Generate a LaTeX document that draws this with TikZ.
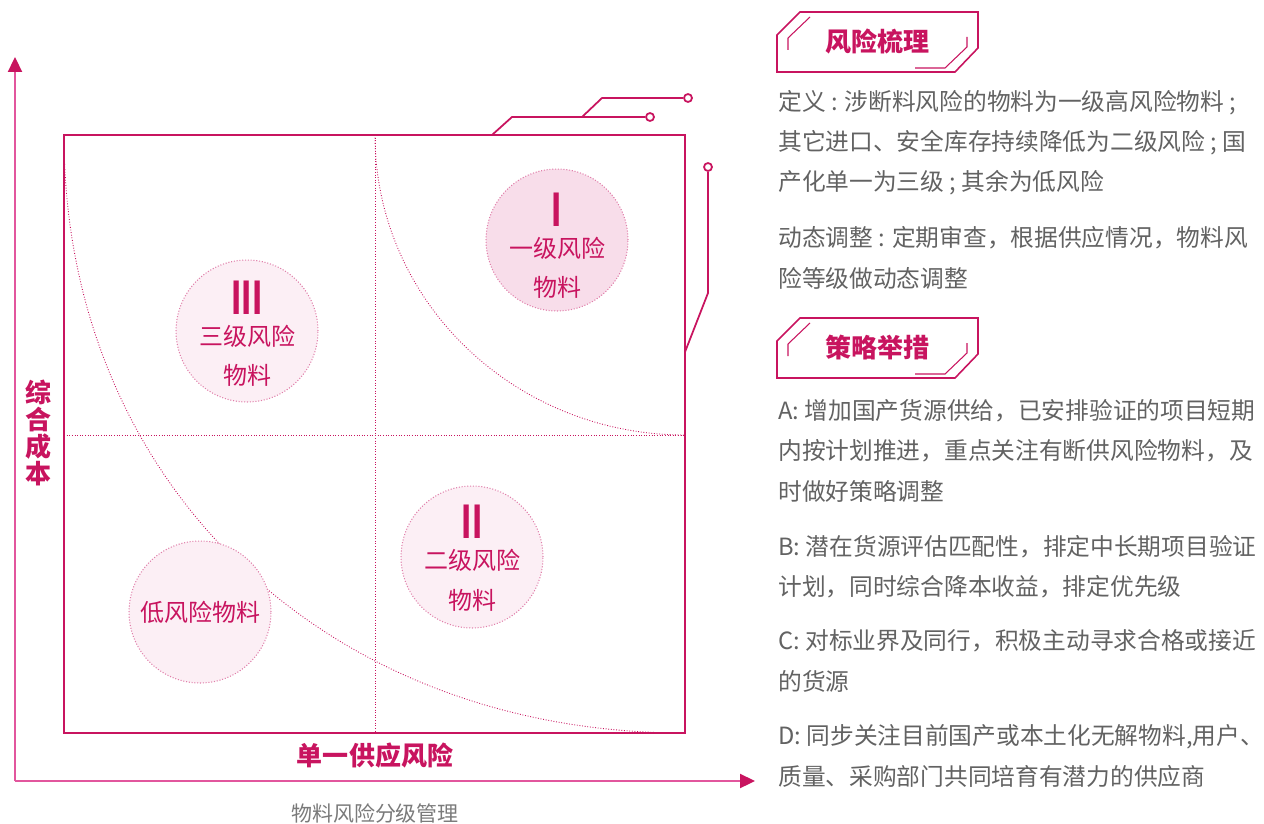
\documentclass[tikz,border=0pt]{standalone}
\usepackage{fontspec}
\setmainfont{Noto Sans CJK SC}
\usetikzlibrary{positioning, arrows.meta, calc}
\definecolor{rkpink}{HTML}{C8145F}
\definecolor{rkaxis}{HTML}{E2569D}
\definecolor{rkring}{HTML}{E07FAA}
\definecolor{rkhigh}{HTML}{F8DDEA}
\definecolor{rklow}{HTML}{FCEFF5}
\definecolor{rkgray}{HTML}{626262}
\definecolor{rkcap}{HTML}{7A7A7A}
\newcommand{\bodysize}{\fontsize{13.5pt}{22.76pt}\selectfont}
\newcommand{\labelsize}{\fontsize{14.8pt}{15.4pt}\selectfont}
\tikzset{
  frame/.style={draw=rkpink, line width=1.1pt},
  axisline/.style={draw=rkaxis, line width=1.3pt,
    -{Triangle[length=0.3cm, width=0.28cm, color=rkpink]}},
  midline/.style={draw=rkpink, densely dotted, line width=0.5pt},
  riskcircle/.style={circle, draw=rkring, densely dotted, line width=0.6pt,
    minimum size=2.84cm, inner sep=0pt},
  numeral/.style={text=rkpink, inner sep=0pt,
    font=\fontsize{25.6pt}{25.6pt}\selectfont\bfseries},
  circlabel/.style={text=rkpink, inner sep=0pt,
    font=\fontsize{13.66pt}{13.66pt}\selectfont},
  link/.style={draw=rkpink, line width=1pt},
  dot/.style={circle, draw=rkpink, fill=white, line width=1pt,
    minimum size=0.16cm, inner sep=0pt},
  tabedge/.style={draw=rkpink, line width=0.9pt},
  tabinner/.style={draw=rkpink, line width=0.6pt},
  tabtitle/.style={text=rkpink, inner sep=0pt, font=\labelsize\bfseries},
  axislabel/.style={text=rkpink, inner sep=0pt, font=\labelsize\bfseries},
  bodyline/.style={anchor=west, inner sep=0pt, text=rkgray, font=\bodysize},
  caption/.style={text=rkcap, inner sep=0pt,
    font=\fontsize{11.95pt}{11.95pt}\selectfont}
}
\begin{document}
\begin{tikzpicture}[x=0.02cm, y=-0.02cm]
  \useasboundingbox (0,0) rectangle (1264,824);

  % axes
  \coordinate (origin) at (15,781);
  \coordinate (ytip) at (15,57);
  \coordinate (xtip) at (755,781);
  \draw[axisline] (origin) -- (ytip);
  \draw[axisline] (origin) -- (xtip);

  % matrix
  \coordinate (sq-nw) at (64,135);
  \coordinate (sq-se) at (685,733);
  \coordinate (sq-ne) at (685,135);
  \coordinate (sq-n) at (375,135);
  \coordinate (sq-s) at (375,733);
  \coordinate (sq-w) at (64,435);
  \coordinate (sq-e) at (685,435);
  \draw[midline] (sq-n) -- (sq-s);
  \draw[midline] (sq-w) -- (sq-e);
  \draw[midline] (sq-n) .. controls (375,300.7) and (513.8,435) .. (sq-e);
  \draw[midline] (sq-nw) .. controls (64,482) and (325,733) .. (sq-se);
  \draw[frame] (sq-nw) rectangle (sq-se);

  % risk levels
  \node[riskcircle, fill=rkhigh] (lvl1) at (557,240) {};
  \node[numeral] (lvl1-num) at (557,210) {\scalebox{0.65}[1]{I}};
  \node[circlabel] (lvl1-txt) at (557,248) {一级风险};
  \node[circlabel] (lvl1-mat) at (557,287) {物料};

  \node[riskcircle, fill=rklow] (lvl3) at (247,331) {};
  \node[numeral] (lvl3-num) at (247,298) {\scalebox{0.65}[1]{III}};
  \node[circlabel] (lvl3-txt) at (247,336) {三级风险};
  \node[circlabel] (lvl3-mat) at (247,375) {物料};

  \node[riskcircle, fill=rklow] (lvl2) at (472,557) {};
  \node[numeral] (lvl2-num) at (472,522) {\scalebox{0.65}[1]{II}};
  \node[circlabel] (lvl2-txt) at (472,560) {二级风险};
  \node[circlabel] (lvl2-mat) at (472,600) {物料};

  \node[riskcircle, fill=rklow] (lvl0) at (200,612) {};
  \node[circlabel] (lvl0-txt) at (200,612) {低风险物料};

  % leads to the right panel
  \coordinate (c1a) at (492,135);
  \coordinate (c1b) at (512,117);
  \node[dot] (d1) at (650,117) {};
  \draw[link] (c1a) -- (c1b) -- (d1);
  \coordinate (c2a) at (582,117);
  \coordinate (c2b) at (602,98);
  \node[dot] (d2) at (688,98) {};
  \draw[link] (c2a) -- (c2b) -- (d2);
  \coordinate (c3a) at (685,352);
  \coordinate (c3b) at (708,293);
  \node[dot] (d3) at (708,167) {};
  \draw[link] (c3a) -- (c3b) -- (d3);

  % axis labels
  \node[axislabel] (xlabel) at (375,756) {单一供应风险};
  \node[axislabel, align=center] (ylabel) at (39,433) {综\\合\\成\\本};
  \node[caption] (cap) at (375,813) {物料风险分级管理};

  % panel headings
  \foreach \ty/\ttl in {0/风险梳理, 306/策略举措} {
    \begin{scope}[yshift=-\ty*0.02cm]
      \draw[tabedge] (777,35) -- (800,12) -- (978,12) -- (978,48)
        -- (955,72) -- (777,72) -- cycle;
      \draw[tabinner] (788,50) -- (788,38) -- (810,17);
      \draw[tabinner] (967,37) -- (967,47) -- (945,68) -- (915,68);
      \node[tabtitle] (tab\ty) at (877,42) {\ttl};
    \end{scope}
  }

  % panel text
  \foreach \ly/\lt [count=\li] in {
      103/{定义 : 涉断料风险的物料为一级高风险物料 ;},
      143/{其它进口、安全库存持续降低为二级风险 ; 国},
      183/{产化单一为三级 ; 其余为低风险},
      238/{动态调整 : 定期审查，根据供应情况，物料风},
      278/{险等级做动态调整},
      411/{A: 增加国产货源供给，已安排验证的项目短期},
      451/{内按计划推进，重点关注有断供风险物料，及},
      491/{时做好策略调整},
      547/{B: 潜在货源评估匹配性，排定中长期项目验证},
      587/{计划，同时综合降本收益，排定优先级},
      641/{C: 对标业界及同行，积极主动寻求合格或接近},
      681/{的货源},
      737/{D: 同步关注目前国产或本土化无解物料{,}用户、},
      776/{质量、采购部门共同培育有潜力的供应商}}
    \node[bodyline] (line\li) at (778,\ly) {\lt};
\end{tikzpicture}
\end{document}
